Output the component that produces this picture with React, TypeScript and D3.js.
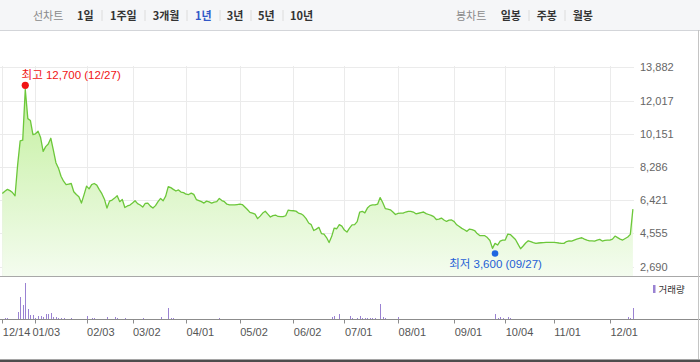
import React from "react";
import * as d3 from "d3";

// ---- data (daily closes, 2021-12-14 .. 2022-12-14, trading days) ----
const closePrices: number[] = [
  6800, 6930, 7030, 6960, 6850, 6670, 8390, 9750, 9790, 12650,
  11000, 10900, 10100, 10150, 10300, 9940, 9160, 9430, 9580, 9900,
  9230, 8530, 8220, 7770, 7490, 7300, 7330, 7360, 6900, 6740,
  6620, 6260, 6720, 7210, 7060, 7300, 7360, 7270, 7020, 6790,
  6480, 5980, 6370, 6430, 6540, 6670, 6340, 6460, 6010, 6100,
  6150, 6260, 6390, 6230, 6150, 6040, 6240, 6260, 6090, 5980,
  6120, 6340, 6520, 6390, 6650, 7180, 7130, 7030, 6940, 7000,
  6880, 6850, 6760, 6740, 6820, 6750, 6460, 6400, 6340, 6260,
  6370, 6330, 6260, 6320, 6340, 6520, 6400, 6340, 6200, 6160,
  6160, 6160, 6180, 6200, 6180, 6040, 5900, 5740, 5700, 5640,
  5390, 5530, 5700, 5800, 5640, 5480, 5560, 5590, 5510, 5500,
  5500, 5550, 5870, 5840, 5830, 5810, 5700, 5660, 5560, 5390,
  5140, 5050, 4720, 4800, 4900, 4550, 4520, 4325, 4045, 4380,
  4860, 4820, 5050, 4970, 4745, 4635, 4860, 5040, 5050, 5220,
  5760, 5800, 5710, 5980, 6120, 6160, 6160, 6200, 6570, 6290,
  5950, 5920, 5880, 5760, 5620, 5680, 5700, 5700, 5760, 5800,
  5800, 5760, 5660, 5690, 5730, 5760, 5670, 5620, 5570, 5500,
  5340, 5360, 5420, 5310, 5230, 5300, 5310, 5220, 5040, 4945,
  4840, 4765, 4675, 4800, 4775, 4720, 4550, 4440, 4430, 4430,
  4325, 4160, 3720, 4000, 3905, 4130, 4185, 4185, 4520, 4495,
  4355, 4215, 3960, 3700, 3850, 4020, 4145, 4100, 4045, 4000,
  4020, 4035, 4045, 4055, 4055, 4055, 4055, 4045, 4020, 4000,
  4000, 4100, 4140, 4130, 4185, 4240, 4280, 4315, 4240, 4185,
  4145, 4140, 4130, 4185, 4225, 4130, 4170, 4185, 4185, 4240,
  4410, 4325, 4240, 4185, 4270, 4355, 4505, 5920,
];

// volume (thousand shares) on the days where a bar is visible
const volumeDayIndex: number[] = [
  1, 2, 6, 7, 8, 9, 10, 11, 12, 13, 14, 15, 16, 17, 18, 19, 20, 21, 22, 23, 24, 27,
  33, 35, 36, 41, 44, 45, 48, 55, 62, 65, 66, 67, 85,
  129, 130, 132, 136, 137, 139, 140, 141, 142, 143, 144, 145, 146, 148, 149, 150, 155,
  193, 194, 195, 196, 198, 199, 245, 246, 247,
];
const volumeValues: number[] = [
  180, 180, 1680, 5580, 3500, 9080, 2500, 1000, 1000, 330, 750, 750, 580, 1180, 1250, 1580, 580, 580, 330, 330, 330, 330,
  830, 330, 330, 580, 580, 330, 330, 330, 580, 2830, 330, 330, 330,
  580, 830, 1180, 830, 330, 330, 750, 330, 330, 330, 330, 330, 330, 3750, 580, 330, 580,
  1250, 330, 580, 330, 580, 330, 580, 330, 2830,
];

const xTickIndex: number[] = [0, 13, 33, 51, 72, 93, 114, 134, 155, 177, 197, 216, 238];
const xTickLabels: string[] = [
  "12/14", "01/03", "02/03", "03/02", "04/01", "05/02", "06/02",
  "07/01", "08/01", "09/01", "10/04", "11/01", "12/01",
];
const yTickValues: number[] = [2690, 4555, 6421, 8286, 10151, 12017, 13882];

const highValue = 12700;
const highIndex = 9;
const highLabel = "최고 12,700 (12/27)";
const lowValue = 3600;
const lowIndex = 193;
const lowLabel = "최저 3,600 (09/27)";

const periodOptions: string[] = ["1일", "1주일", "3개월", "1년", "3년", "5년", "10년"];
const candleOptions: string[] = ["일봉", "주봉", "월봉"];
const activePeriod = "1년";

// ---- layout ----
const W = 700;
const H = 362;
const PLOT_LEFT = 0;
const PLOT_RIGHT = 634;
const PLOT_TOP = 66;
const PLOT_BOTTOM = 276.5;
const VOL_BASE = 319.5;
const VOL_MAX_H = 36.5;

const periodX = [77, 110, 152.7, 195, 226.7, 258, 290];
const periodSepX = [101.7, 145, 187, 220, 250.7, 283];
const candleX = [500.7, 536.7, 572.7];
const candleSepX = [529, 565];

const KR = "'Noto Sans CJK KR', 'Liberation Sans', sans-serif";
const NUM = "'Liberation Sans', Arial, 'Noto Sans CJK KR', sans-serif";

export default function App() {
  const xScale = d3
    .scaleLinear()
    .domain([0, closePrices.length - 1])
    .range([2.3, 632.9]);
  const yScale = d3
    .scaleLinear()
    .domain([yTickValues[0], yTickValues[yTickValues.length - 1]])
    .range([266.7, 67.3]);
  const volScale = d3
    .scaleLinear()
    .domain([0, d3.max(volumeValues) as number])
    .range([0, VOL_MAX_H]);

  const lineGen = d3
    .line<number>()
    .x((_, i) => xScale(i))
    .y((d) => yScale(d));
  const areaGen = d3
    .area<number>()
    .x((_, i) => xScale(i))
    .y0(PLOT_BOTTOM)
    .y1((d) => yScale(d));

  const crisp = (v: number) => Math.round(v) + 0.5;

  const hx = xScale(highIndex);
  const hy = yScale(highValue) - 3;
  const lx = xScale(lowIndex);
  const ly = yScale(lowValue) + 3;

  return (
    <svg
      width={W}
      height={H}
      style={{ position: "absolute", left: 0, top: 0, display: "block", background: "#fff" }}
    >
      <defs>
        <linearGradient id="priceFill" gradientUnits="userSpaceOnUse" x1={0} y1={PLOT_TOP} x2={0} y2={PLOT_BOTTOM}>
          <stop offset="0%" stopColor="#bdee94" />
          <stop offset="100%" stopColor="#f4fcef" />
        </linearGradient>
      </defs>

      {/* top bar */}
      <rect x={0} y={0} width={W} height={30} fill="#f5f6f8" />
      <line x1={0} x2={W} y1={30.5} y2={30.5} stroke="#d3d5d9" />
      <text x={33} y={19.5} fontFamily={KR} fontSize={11} fill="#8a8a8a">
        선차트
      </text>
      {periodOptions.map((p, i) => (
        <text
          key={p}
          x={periodX[i]}
          y={19.5}
          fontFamily={KR}
          fontSize={11}
          fontWeight={700}
          fill={p === activePeriod ? "#3158c8" : "#333"}
        >
          {p}
        </text>
      ))}
      {periodSepX.map((x, i) => (
        <line key={i} x1={crisp(x) - 0.5} x2={crisp(x) - 0.5} y1={10} y2={21} stroke="#dcdcdc" />
      ))}
      <text x={456} y={19.5} fontFamily={KR} fontSize={11} fill="#8a8a8a">
        봉차트
      </text>
      {candleOptions.map((p, i) => (
        <text key={p} x={candleX[i]} y={19.5} fontFamily={KR} fontSize={11} fontWeight={700} fill="#333">
          {p}
        </text>
      ))}
      {candleSepX.map((x, i) => (
        <line key={i} x1={crisp(x) - 0.5} x2={crisp(x) - 0.5} y1={10} y2={21} stroke="#dcdcdc" />
      ))}

      {/* price gridlines */}
      {yTickValues.map((v) => (
        <line
          key={v}
          x1={PLOT_LEFT}
          x2={PLOT_RIGHT}
          y1={crisp(yScale(v))}
          y2={crisp(yScale(v))}
          stroke="#ebebeb"
        />
      ))}
      {xTickIndex.map((t) => (
        <line
          key={t}
          x1={crisp(xScale(t))}
          x2={crisp(xScale(t))}
          y1={PLOT_TOP}
          y2={PLOT_BOTTOM}
          stroke="#ebebeb"
        />
      ))}

      {/* price area + line */}
      <path d={areaGen(closePrices) || ""} fill="url(#priceFill)" />
      <path d={lineGen(closePrices) || ""} fill="none" stroke="#6cc73a" strokeWidth={1.3} strokeLinejoin="round" />

      {/* y labels */}
      {yTickValues.map((v) => (
        <text key={v} x={640} y={yScale(v) + 4} fontFamily={NUM} fontSize={11} fill="#666">
          {d3.format(",")(v)}
        </text>
      ))}

      {/* high / low markers */}
      <circle cx={hx} cy={hy} r={3.6} fill="#f01414" />
      <text x={hx - 3.7} y={hy - 6} fontFamily={NUM} fontSize={11.5} fill="#f01414">
        {highLabel}
      </text>
      <circle cx={lx} cy={ly} r={3.3} fill="#1f66e0" />
      <text x={lx + 0.5} y={ly + 14.5} textAnchor="middle" fontFamily={NUM} fontSize={11.5} fill="#1f5fd6">
        {lowLabel}
      </text>

      {/* separator between price and volume */}
      <line x1={0} x2={W} y1={276.5} y2={276.5} stroke="#a8a8a8" />

      {/* volume bars */}
      {volumeDayIndex.map((d, i) => {
        const h = Math.max(1, volScale(volumeValues[i]));
        return (
          <rect
            key={d}
            x={Math.round(xScale(d))}
            y={VOL_BASE - 0.5 - h}
            width={1}
            height={h}
            fill="#9a82d2"
            shapeRendering="crispEdges"
          />
        );
      })}

      {/* volume legend */}
      <rect x={653} y={285} width={2.5} height={8} fill="#9a82d2" />
      <text x={658.5} y={293} fontFamily={KR} fontSize={9.5} fill="#333">
        거래량
      </text>

      {/* x axis */}
      <line x1={0} x2={W} y1={VOL_BASE} y2={VOL_BASE} stroke="#8c8c8c" />
      {xTickIndex.map((t) => (
        <line
          key={t}
          x1={crisp(xScale(t))}
          x2={crisp(xScale(t))}
          y1={VOL_BASE}
          y2={VOL_BASE + 4}
          stroke="#8c8c8c"
        />
      ))}
      {xTickIndex.map((t, i) => (
        <text key={t} x={xScale(t) + (i === 1 ? -3 : 0.5)} y={336} fontFamily={NUM} fontSize={11} fill="#555">
          {xTickLabels[i]}
        </text>
      ))}

      {/* frame */}
      <line x1={698.5} x2={698.5} y1={30} y2={359} stroke="#c4c4c4" />
      <rect x={0} y={359.5} width={W} height={2.5} fill="#4d4d4d" />
    </svg>
  );
}
